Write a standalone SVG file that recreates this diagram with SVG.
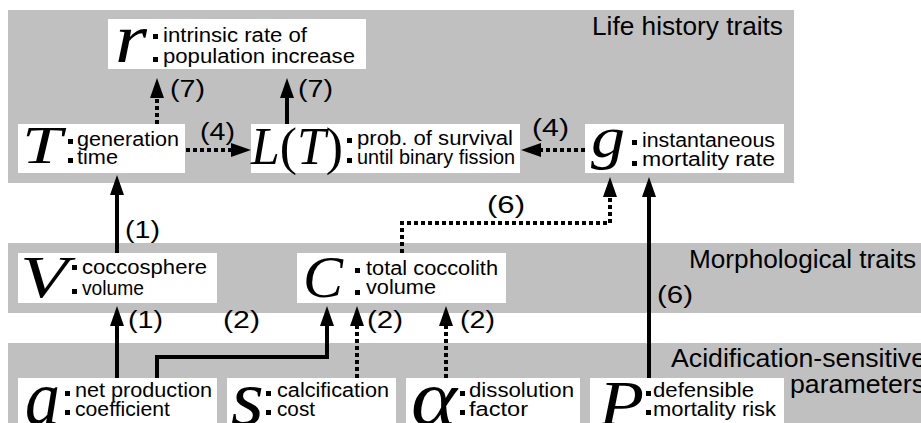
<svg xmlns="http://www.w3.org/2000/svg" width="921" height="423" viewBox="0 0 921 423">
<style>
.band{fill:#c0c0c0}
.box{fill:#ffffff}
.sym{font-family:"Liberation Serif","Times New Roman",serif;font-style:italic;fill:#000}
.up{font-style:normal}
.lbl{font-family:"Liberation Sans",Arial,sans-serif;font-size:20px;fill:#000}
.hdr{font-family:"Liberation Sans",Arial,sans-serif;font-size:26px;fill:#000}
.num{font-family:"Liberation Sans",Arial,sans-serif;font-size:23px;fill:#000}
.bul{fill:#000}
.solid{stroke:#000;stroke-width:4;fill:none}
.dot{stroke:#000;stroke-width:4;fill:none;stroke-dasharray:4 3}
</style>
<defs>
<marker id="ah" viewBox="0 -7 20 14" markerWidth="20" markerHeight="14" refX="0" refY="0" orient="auto" markerUnits="userSpaceOnUse">
<path d="M0,-7 L20,0 L0,7 z" fill="#000"/>
</marker>
</defs>

<g id="bands">
<rect class="band" x="8" y="10" width="786" height="173"/>
<rect class="band" x="8" y="243" width="913" height="70"/>
<rect class="band" x="8" y="343" width="913" height="80"/>
<text class="hdr" x="592" y="35" textLength="191" lengthAdjust="spacingAndGlyphs">Life history traits</text>
<text class="hdr" x="689" y="268" textLength="227" lengthAdjust="spacingAndGlyphs">Morphological traits</text>
<text class="hdr" x="671" y="367" textLength="255" lengthAdjust="spacingAndGlyphs">Acidification-sensitive</text>
<text class="hdr" x="790" y="393" textLength="135" lengthAdjust="spacingAndGlyphs">parameters</text>
</g>

<g id="connectors">
<line class="dot" x1="157" y1="124" x2="157" y2="98" marker-end="url(#ah)"/>
<line class="solid" x1="287" y1="124" x2="287" y2="98" marker-end="url(#ah)"/>
<line class="dot" x1="186" y1="150" x2="231" y2="150" marker-end="url(#ah)"/>
<line class="dot" x1="585" y1="150" x2="541" y2="150" marker-end="url(#ah)"/>
<line class="solid" x1="117" y1="253" x2="117" y2="195" marker-end="url(#ah)"/>
<line class="solid" x1="117" y1="378" x2="117" y2="326" marker-end="url(#ah)"/>
<path class="solid" d="M157,378 V357 H327 V326" marker-end="url(#ah)"/>
<line class="dot" x1="357" y1="378" x2="357" y2="326" marker-end="url(#ah)"/>
<line class="dot" x1="446" y1="378" x2="446" y2="326" marker-end="url(#ah)"/>
<path class="dot" d="M402,253 V223 H610 V197" marker-end="url(#ah)"/>
<line class="solid" x1="649" y1="378" x2="649" y2="197" marker-end="url(#ah)"/>
<text class="num" x="170" y="97" textLength="35" lengthAdjust="spacingAndGlyphs">(7)</text>
<text class="num" x="298" y="97" textLength="35" lengthAdjust="spacingAndGlyphs">(7)</text>
<text class="num" x="200" y="140" textLength="35" lengthAdjust="spacingAndGlyphs">(4)</text>
<text class="num" x="532" y="136" textLength="37" lengthAdjust="spacingAndGlyphs">(4)</text>
<text class="num" x="125" y="238" textLength="35" lengthAdjust="spacingAndGlyphs">(1)</text>
<text class="num" x="487" y="213" textLength="38" lengthAdjust="spacingAndGlyphs">(6)</text>
<text class="num" x="128" y="328" textLength="35" lengthAdjust="spacingAndGlyphs">(1)</text>
<text class="num" x="223" y="328" textLength="37" lengthAdjust="spacingAndGlyphs">(2)</text>
<text class="num" x="367" y="328" textLength="36" lengthAdjust="spacingAndGlyphs">(2)</text>
<text class="num" x="460" y="328" textLength="35" lengthAdjust="spacingAndGlyphs">(2)</text>
<text class="num" x="657" y="303" textLength="36" lengthAdjust="spacingAndGlyphs">(6)</text>
</g>

<g id="node-r">
<rect class="box" x="108" y="19" width="258" height="50"/>
<text class="sym" x="115" y="62" font-size="70" textLength="32" lengthAdjust="spacingAndGlyphs">r</text>
<rect class="bul" x="153" y="34" width="5" height="5"/>
<rect class="bul" x="153" y="57" width="5" height="5"/>
<text class="lbl" x="163" y="42" textLength="144" lengthAdjust="spacingAndGlyphs">intrinsic rate of</text>
<text class="lbl" x="163" y="63" textLength="192" lengthAdjust="spacingAndGlyphs">population increase</text>
</g>

<g id="node-T">
<rect class="box" x="18" y="124" width="167" height="49"/>
<text class="sym" x="22" y="163" font-size="52" textLength="40" lengthAdjust="spacingAndGlyphs">T</text>
<rect class="bul" x="68" y="139" width="5" height="5"/>
<rect class="bul" x="68" y="158" width="5" height="5"/>
<text class="lbl" x="77" y="146" textLength="102" lengthAdjust="spacingAndGlyphs">generation</text>
<text class="lbl" x="77" y="164" textLength="41" lengthAdjust="spacingAndGlyphs">time</text>
</g>

<g id="node-L">
<rect class="box" x="251" y="124" width="269" height="49"/>
<text class="sym" x="251" y="164" font-size="52" textLength="92" lengthAdjust="spacingAndGlyphs">L<tspan class="up">(</tspan>T<tspan class="up">)</tspan></text>
<rect class="bul" x="347" y="138" width="5" height="5"/>
<rect class="bul" x="347" y="158" width="5" height="5"/>
<text class="lbl" x="357" y="145" textLength="156" lengthAdjust="spacingAndGlyphs">prob. of survival</text>
<text class="lbl" x="357" y="164" textLength="158" lengthAdjust="spacingAndGlyphs">until binary fission</text>
</g>

<g id="node-g">
<rect class="box" x="585" y="124" width="199" height="49"/>
<text class="sym" x="591" y="157" font-size="60" textLength="34" lengthAdjust="spacingAndGlyphs">g</text>
<rect class="bul" x="632" y="140" width="5" height="5"/>
<rect class="bul" x="632" y="161" width="5" height="5"/>
<text class="lbl" x="642" y="147" textLength="133" lengthAdjust="spacingAndGlyphs">instantaneous</text>
<text class="lbl" x="642" y="166" textLength="133" lengthAdjust="spacingAndGlyphs">mortality rate</text>
</g>

<g id="node-V">
<rect class="box" x="18" y="253" width="199" height="50"/>
<text class="sym" x="20" y="297" font-size="60" textLength="48" lengthAdjust="spacingAndGlyphs">V</text>
<rect class="bul" x="72" y="265" width="5" height="5"/>
<rect class="bul" x="72" y="289" width="5" height="5"/>
<text class="lbl" x="82" y="274" textLength="125" lengthAdjust="spacingAndGlyphs">coccosphere</text>
<text class="lbl" x="82" y="295" textLength="62" lengthAdjust="spacingAndGlyphs">volume</text>
</g>

<g id="node-C">
<rect class="box" x="297" y="253" width="209" height="50"/>
<text class="sym" x="303" y="297" font-size="60" textLength="40" lengthAdjust="spacingAndGlyphs">C</text>
<rect class="bul" x="355" y="268" width="5" height="5"/>
<rect class="bul" x="355" y="290" width="5" height="5"/>
<text class="lbl" x="366" y="275" textLength="132" lengthAdjust="spacingAndGlyphs">total coccolith</text>
<text class="lbl" x="366" y="294" textLength="70" lengthAdjust="spacingAndGlyphs">volume</text>
</g>

<g id="node-a">
<rect class="box" x="18" y="378" width="199" height="47"/>
<text class="sym" x="25" y="424" font-size="78" textLength="35" lengthAdjust="spacingAndGlyphs">a</text>
<rect class="bul" x="65" y="391" width="5" height="5"/>
<rect class="bul" x="65" y="410" width="5" height="5"/>
<text class="lbl" x="75" y="397" textLength="137" lengthAdjust="spacingAndGlyphs">net production</text>
<text class="lbl" x="75" y="416" textLength="95" lengthAdjust="spacingAndGlyphs">coefficient</text>
</g>

<g id="node-s">
<rect class="box" x="227" y="378" width="169" height="47"/>
<text class="sym" x="231" y="424" font-size="78" textLength="33" lengthAdjust="spacingAndGlyphs">s</text>
<rect class="bul" x="266" y="391" width="5" height="5"/>
<rect class="bul" x="266" y="410" width="5" height="5"/>
<text class="lbl" x="277" y="397" textLength="112" lengthAdjust="spacingAndGlyphs">calcification</text>
<text class="lbl" x="277" y="416" textLength="38" lengthAdjust="spacingAndGlyphs">cost</text>
</g>

<g id="node-alpha">
<rect class="box" x="406" y="378" width="174" height="47"/>
<text class="sym" x="411" y="424" font-size="78" textLength="46" lengthAdjust="spacingAndGlyphs">α</text>
<rect class="bul" x="460" y="391" width="5" height="5"/>
<rect class="bul" x="460" y="410" width="5" height="5"/>
<text class="lbl" x="469" y="397" textLength="105" lengthAdjust="spacingAndGlyphs">dissolution</text>
<text class="lbl" x="469" y="416" textLength="59" lengthAdjust="spacingAndGlyphs">factor</text>
</g>

<g id="node-P">
<rect class="box" x="590" y="378" width="194" height="47"/>
<text class="sym" x="599" y="425" font-size="64" textLength="45" lengthAdjust="spacingAndGlyphs">P</text>
<rect class="bul" x="646" y="391" width="5" height="5"/>
<rect class="bul" x="646" y="410" width="5" height="5"/>
<text class="lbl" x="653" y="397" textLength="101" lengthAdjust="spacingAndGlyphs">defensible</text>
<text class="lbl" x="653" y="416" textLength="123" lengthAdjust="spacingAndGlyphs">mortality risk</text>
</g>
</svg>
